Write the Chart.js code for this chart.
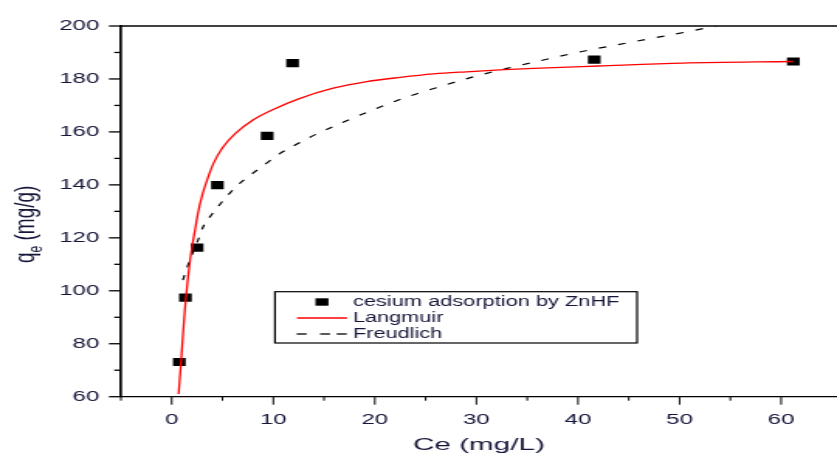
<!DOCTYPE html>
<html>
<head>
<meta charset="utf-8">
<script src="https://cdn.jsdelivr.net/npm/chart.js@4.4.1/dist/chart.umd.min.js"></script>
<style>
  html, body { margin: 0; padding: 0; background: #fff; overflow: hidden; }
</style>
</head>
<body>
<canvas id="chart" width="540" height="455" style="width:837px;height:455px"></canvas>
<script>
// experimental points (Ce mg/L, qe mg/g)
const expCe = [0.75, 1.35, 2.5, 4.5, 9.4, 11.9, 41.6, 61.2];
const expQe = [73.1, 97.4, 116.3, 139.9, 158.5, 186.0, 187.3, 186.6];

// Langmuir fit
const langCe = [0.68, 0.9, 1.1, 1.3, 1.55, 1.9, 2.3, 2.6, 3.0, 3.5, 4.1, 5.0, 6.3, 8.0, 10.0, 12.5, 15.9, 19.2, 22.5, 25.8, 29.0, 32.3, 35.6, 42.0, 50.3, 61.2];
const langQe = [61, 72, 83, 93, 103, 114, 123, 129.5, 136, 142, 148, 154, 159.5, 164.5, 168.5, 172.5, 176.5, 179, 180.6, 181.9, 182.7, 183.4, 184, 184.9, 186, 186.6];

// Freundlich fit
const freuCe = [1.1, 1.6, 2.6, 3.1, 3.9, 4.7, 5.7, 6.7, 8.0, 9.3, 10.6, 12.0, 13.4, 16.6, 19.8, 23.1, 26.4, 29.7, 33.0, 36.3, 39.9, 45.4, 51.0, 53.6];
const freuQe = [104, 109.7, 119.2, 124.2, 128.6, 132.4, 136.8, 140.6, 144.4, 148.1, 151.7, 154.7, 157.6, 163.2, 168.3, 173.1, 177.1, 180.8, 184, 186.9, 190, 194, 198, 200];

const xTickValues = [0, 10, 20, 30, 40, 50, 60];
const yTickValues = [60, 80, 100, 120, 140, 160, 180, 200];
const legendLabels = ['cesium adsorption by ZnHF', 'Langmuir', 'Freudlich'];

const TEXT = '#16163a';
const FONT = '"Liberation Sans", Arial, sans-serif';

const toXY = (xs, ys) => xs.map((x, i) => ({ x, y: ys[i] }));

// text squeezed/stretched horizontally to a given width, left aligned
function fitText(ctx, text, x, y, width) {
  const w = ctx.measureText(text).width;
  ctx.save();
  ctx.translate(x, y);
  ctx.scale(width / w, 1);
  ctx.fillText(text, 0, 0);
  ctx.restore();
}

// frame, minor ticks, axis titles and legend box
const decorations = {
  id: 'decorations',
  afterDraw(chart) {
    const { ctx, chartArea: a, scales: { x, y } } = chart;
    ctx.save();
    ctx.strokeStyle = '#000';

    ctx.lineWidth = 1.3;
    ctx.beginPath();
    ctx.moveTo(a.left, a.top);
    ctx.lineTo(a.right, a.top);
    ctx.stroke();

    ctx.lineWidth = 1.3;
    for (let v = 60; v <= 200; v += 10) {
      const py = y.getPixelForValue(v);
      const len = v % 20 === 0 ? 7.7 : 4.3;
      ctx.beginPath();
      ctx.moveTo(a.left, py);
      ctx.lineTo(a.left - len, py);
      ctx.stroke();
    }
    ctx.lineWidth = 1;
    for (let v = -5; v <= 60; v += 5) {
      const px = x.getPixelForValue(v);
      const len = v % 10 === 0 ? 8 : 4;
      ctx.beginPath();
      ctx.moveTo(px, a.bottom);
      ctx.lineTo(px, a.bottom + len);
      ctx.stroke();
    }

    // x title
    ctx.fillStyle = TEXT;
    ctx.font = '17px ' + FONT;
    ctx.textAlign = 'left';
    ctx.textBaseline = 'alphabetic';
    fitText(ctx, 'Ce (mg/L)', (a.left + a.right) / 2 - 42.5, 450, 85);

    // y title q_e (mg/g)
    ctx.save();
    ctx.translate(21.8, 263);
    ctx.rotate(-Math.PI / 2);
    ctx.font = '19px ' + FONT;
    ctx.fillText('q', 0, 0);
    const qw = ctx.measureText('q').width;
    ctx.font = '12px ' + FONT;
    ctx.fillText('e', qw, 5);
    const ew = ctx.measureText('e').width;
    ctx.font = '19px ' + FONT;
    ctx.fillText(' (mg/g)', qw + ew, 0);
    ctx.restore();

    // legend
    ctx.lineWidth = 1.2;
    ctx.strokeRect(177.4, 291.7, 233.6, 51.3);
    ctx.fillStyle = '#000';
    ctx.fillRect(203.5, 298.3, 8.4, 7.4);
    ctx.strokeStyle = '#ff0000';
    ctx.lineWidth = 1.3;
    ctx.beginPath();
    ctx.moveTo(191.6, 318);
    ctx.lineTo(223.9, 318);
    ctx.stroke();
    ctx.strokeStyle = '#000';
    [[191.4, 197.8], [206.5, 212.9], [217.2, 223.7]].forEach(([s, e]) => {
      ctx.beginPath();
      ctx.moveTo(s, 334);
      ctx.lineTo(e, 334);
      ctx.stroke();
    });
    ctx.fillStyle = TEXT;
    ctx.font = '14px ' + FONT;
    ctx.textBaseline = 'middle';
    fitText(ctx, legendLabels[0], 227.7, 302, 172);
    ctx.fillText(legendLabels[1], 227.7, 318);
    ctx.fillText(legendLabels[2], 227.7, 334);

    ctx.restore();
  }
};

new Chart(document.getElementById('chart'), {
  type: 'scatter',
  data: {
    datasets: [
      {
        type: 'line',
        label: legendLabels[1],
        data: toXY(langCe, langQe),
        borderColor: '#ff0000',
        borderWidth: 1.3,
        pointRadius: 0,
        cubicInterpolationMode: 'monotone',
        fill: false,
        order: 0,
      },
      {
        type: 'line',
        label: legendLabels[2],
        data: toXY(freuCe, freuQe),
        borderColor: '#000',
        borderWidth: 1.2,
        borderDash: [5, 8],
        pointRadius: 0,
        cubicInterpolationMode: 'monotone',
        fill: false,
        order: 0,
      },
      {
        label: legendLabels[0],
        data: toXY(expCe, expQe),
        pointStyle: 'rect',
        pointRadius: 5.8,
        backgroundColor: '#000',
        borderColor: '#000',
        borderWidth: 0,
        order: 1,
      },
    ]
  },
  options: {
    responsive: false,
    devicePixelRatio: 1,
    animation: false,
    events: [],
    layout: { autoPadding: false, padding: { top: 26, right: 0, bottom: 0, left: 0 } },
    plugins: {
      legend: { display: false },
      tooltip: { enabled: false },
    },
    scales: {
      x: {
        type: 'linear',
        min: -5,
        max: 65.5,
        afterFit: s => { s.height = 58.3; s.paddingLeft = 0; s.paddingRight = 0; },
        afterBuildTicks: s => { s.ticks = xTickValues.map(v => ({ value: v })); },
        grid: { display: false, drawTicks: false },
        border: { display: true, color: '#000', width: 1.3 },
        ticks: { color: TEXT, padding: 14, font: { family: FONT, size: 15.5 }, maxRotation: 0 },
      },
      y: {
        type: 'linear',
        min: 60,
        max: 200,
        afterFit: s => { s.width = 78; s.paddingTop = 0; s.paddingBottom = 0; },
        afterBuildTicks: s => { s.ticks = yTickValues.map(v => ({ value: v })); },
        grid: { display: false, drawTicks: false },
        border: { display: true, color: '#000', width: 1.7 },
        ticks: { color: TEXT, padding: 14, font: { family: FONT, size: 15.5 } },
      },
    },
  },
  plugins: [decorations],
});
</script>
</body>
</html>
